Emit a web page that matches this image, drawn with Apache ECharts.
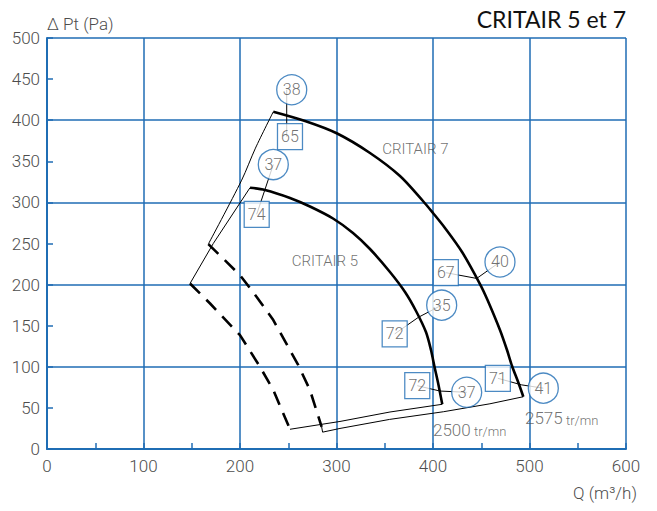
<!DOCTYPE html>
<html>
<head>
<meta charset="utf-8">
<script src="https://cdn.jsdelivr.net/npm/echarts@6/dist/echarts.min.js"></script>
<style>html,body{margin:0;padding:0;background:#fff}#c{width:657px;height:511px}</style>
</head>
<body>
<div id="c"></div>
<script>
// ---- data (Q in m3/h, Pt in Pa) ----
const xTicks = [0, 100, 200, 300, 400, 500, 600];
const yTicks = [0, 50, 100, 150, 200, 250, 300, 350, 400, 450, 500];

const critair7Curve = [[234.5,410.3],[267.4,399.0],[300.2,384.1],[334.7,360.1],[365.8,332.1],[389.6,301.7],[400.0,287.1],[412.4,268.9],[430.1,239.7],[448.7,200.7],[456.5,181.3],[469.4,144.8],[476.7,120.4],[481.9,101.0],[488.6,80.3],[493.6,63.6]];
const critair5Curve = [[210.4,317.9],[225.9,315.1],[251.8,305.4],[272.5,295.0],[296.4,280.4],[317.1,262.8],[334.7,243.3],[355.4,215.3],[371.0,191.0],[382.4,167.9],[392.7,142.3],[397.9,120.4],[401.6,99.8],[405.7,77.9],[409.6,54.4]];

const critair7Top = [[234.5,410.3],[216,366],[201.7,327],[167.2,249.3]];
const critair5Top = [[210.4,317.9],[172.3,250],[148.2,201.3]];

const critair5Dash = [[148.2,201.3],[169,177],[200,138.5],[220.7,100],[234.5,71.7],[251.8,24]];
const critair7Dash = [[167.2,249.3],[200,211.5],[217.3,185],[234.5,156.8],[260.4,102],[272.5,71.7],[284.6,27]];

const critair5Bottom = [[251.8,24],[303.6,33.5],[355.4,45],[409.6,54.4]];
const critair7Bottom = [[284.6,27],[285.6,20.5],[303.6,25],[355,36],[410.7,45.3],[459,55],[493.6,63.6]];

const circleLabels = [
  {name:'38', value:[253.6,437]},
  {name:'37', value:[234.5,346]},
  {name:'40', value:[469.4,227.5]},
  {name:'35', value:[409,175]},
  {name:'37', value:[434.9,69]},
  {name:'41', value:[514.3,74]}
];
const boxLabels = [
  {name:'65', value:[251.8,380]},
  {name:'74', value:[217.3,285.5]},
  {name:'67', value:[413.3,214.5]},
  {name:'72', value:[360.3,140]},
  {name:'72', value:[383.7,77]},
  {name:'71', value:[467.2,86]}
];
const connectors = [
  [[248.4,437],[248.4,380]],
  [[234.5,346],[217.3,285.5]],
  [[413.3,214.5],[445.3,207.5],[469.4,227.5]],
  [[360.3,140],[385,160.3],[409,175]],
  [[383.7,77],[407.3,70.5],[434.9,69]],
  [[467.2,86],[491.9,78],[514.3,74]]
];
const curveNames = [
  {name:'CRITAIR 7', value:[381.7,365.5]},
  {name:'CRITAIR 5', value:[288,229]}
];
const speedLabels = [
  {name:'2500', value:[400,24]},
  {name:'2575', value:[495.3,38]}
];

// ---- chart ----
const BLUE = '#1f6db4';
const FONT = "Roboto, 'Liberation Sans', sans-serif";
const GRAY = '#4d4d4d';

const chart = echarts.init(document.getElementById('c'), null, {renderer:'svg'});

function lineSeries(data, width, dashed, z){
  return {
    type:'line', data:data, symbol:'none', xAxisIndex:0, yAxisIndex:0,
    lineStyle:{color:'#000', width:width, type: dashed ? [14,9] : 'solid'},
    z:z, silent:true, animation:false
  };
}

const series = [
  lineSeries(critair7Curve, 2.6, false, 3),
  lineSeries(critair5Curve, 2.6, false, 3),
  lineSeries(critair7Top, 1, false, 3),
  lineSeries(critair5Top, 1, false, 3),
  lineSeries(critair5Dash, 2.6, true, 3),
  lineSeries(critair7Dash, 2.6, true, 3),
  lineSeries(critair5Bottom, 1, false, 3),
  lineSeries(critair7Bottom, 1, false, 3)
];
series[0].smooth = 0.3; series[1].smooth = 0.3; series[2].smooth = 0.3;
connectors.forEach(c => series.push(lineSeries(c, 1, false, 2)));

const lbl = {show:true, position:'inside', formatter:'{b}', color:GRAY, fontSize:16, fontFamily:FONT, fontWeight:300};
series.push({
  type:'scatter', data:circleLabels, symbol:'circle', symbolSize:30, z:5, animation:false,
  itemStyle:{color:'#fff', borderColor:BLUE, borderWidth:1.3}, label:lbl
});
series.push({
  type:'scatter', data:boxLabels, symbol:'rect', symbolSize:[25,26], z:5, animation:false,
  itemStyle:{color:'#fff', borderColor:BLUE, borderWidth:1.3}, label:lbl
});
series.push({
  type:'scatter', data:curveNames, symbolSize:0, z:6, animation:false,
  label:{show:true, position:'inside', formatter:'{b}', color:GRAY, fontSize:15, fontFamily:FONT, fontWeight:300}
});
series.push({
  type:'scatter', data:speedLabels, symbolSize:0, z:6, animation:false,
  label:{show:true, position:'right', distance:0, formatter:'{a|{b}} {c|tr/mn}', color:GRAY,
    rich:{a:{fontSize:17, fontFamily:FONT, fontWeight:300, color:GRAY, lineHeight:18, verticalAlign:'bottom'},
          c:{fontSize:13, fontFamily:FONT, fontWeight:300, color:GRAY, lineHeight:18, verticalAlign:'bottom'}}}
});

chart.setOption({
  animation:false,
  grid:{left:47, right:31, top:38, bottom:62, containLabel:false, outerBoundsMode:'none'},
  xAxis:[
    {type:'value', min:0, max:600, interval:50,
     axisLine:{show:true, lineStyle:{color:BLUE, width:2}},
     axisTick:{show:true, inside:true, length:6, lineStyle:{color:BLUE, width:1.5}},
     axisLabel:{margin:8, color:GRAY, fontSize:17, fontFamily:FONT, fontWeight:300,
       formatter: v => xTicks.indexOf(v) >= 0 ? String(v) : ''},
     splitLine:{show:false}},
    {type:'value', min:0, max:600, interval:100, position:'top',
     axisLine:{show:false}, axisTick:{show:false}, axisLabel:{show:false},
     splitLine:{show:true, lineStyle:{color:BLUE, width:1.5}}}
  ],
  yAxis:[
    {type:'value', min:0, max:500, interval:50,
     name:'Δ Pt (Pa)', nameLocation:'end', nameGap:14,
     nameTextStyle:{align:'left', verticalAlign:'middle', color:GRAY, fontSize:17, fontFamily:FONT, fontWeight:300},
     axisLine:{show:true, lineStyle:{color:BLUE, width:2}},
     axisTick:{show:true, inside:true, length:6, lineStyle:{color:BLUE, width:1.5}},
     axisLabel:{margin:7, color:GRAY, fontSize:17, fontFamily:FONT, fontWeight:300,
       formatter: v => yTicks.indexOf(v) >= 0 ? String(v) : ''},
     splitLine:{show:false}},
    {type:'value', min:0, max:500, interval:100, position:'right',
     axisLine:{show:false}, axisTick:{show:false}, axisLabel:{show:false},
     splitLine:{show:true, lineStyle:{color:BLUE, width:1.5}}}
  ],
  graphic:[
    {type:'text', right:31, top:7, style:{text:'CRITAIR 5 et 7', font:"23px Lato, 'Open Sans', sans-serif", fill:'#111'}},
    {type:'text', left:573, top:484, style:{text:'Q (m³/h)', font:"300 17px " + FONT, fill:GRAY}}
  ],
  series:series
});
</script>
</body>
</html>
